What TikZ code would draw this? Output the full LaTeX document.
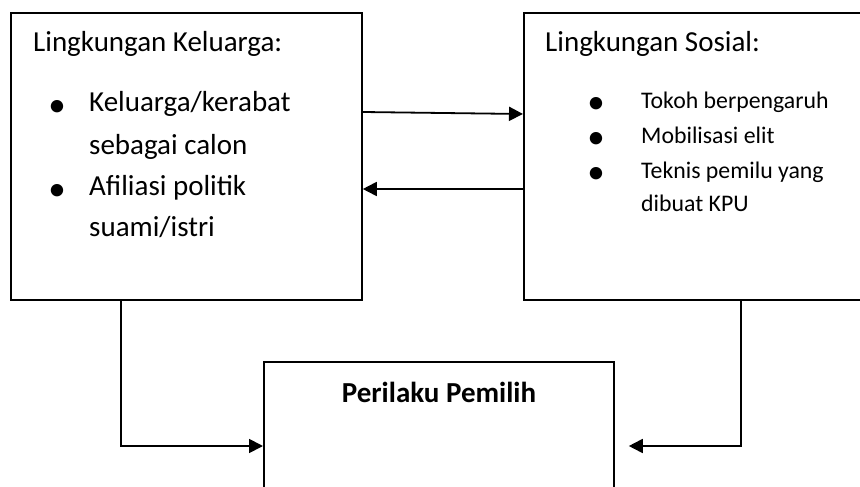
\documentclass[tikz,border=0pt]{standalone}
\usepackage{fontspec}
\setmainfont{Carlito}
\usetikzlibrary{arrows.meta, positioning, calc}

\tikzset{
  box/.style={draw, line width=1.8pt, anchor=north west, inner sep=0pt},
  arr/.style={line width=1.8pt, -{Triangle[length=14pt,width=14pt]}},
  big/.style={anchor=base west, inner sep=0pt, font=\fontsize{29}{35}\selectfont},
  small/.style={anchor=base west, inner sep=0pt, font=\fontsize{23.8}{29}\selectfont},
  dotb/.style={anchor=base, inner sep=0pt, yshift=-5pt, font=\fontsize{35}{40}\selectfont},
}

\begin{document}
\begin{tikzpicture}[x=1pt, y=-1pt]
                \useasboundingbox (0,0) rectangle (860,487);
                % Boxes
                \node[box, minimum width=351pt, minimum height=287pt] (keluarga) at (10,12) {};
                \node[box, minimum width=380pt, minimum height=287pt] (sosial) at (523,12) {};
                \node[box, minimum width=350pt, minimum height=170pt] (pemilih) at (263,361) {};

                % Lingkungan Keluarga
                \node[big] (kelhead) at (33,52) {Lingkungan Keluarga:};
                \node[dotb] (kdot1) at (57,111.7) {•};
                \node[big] (kel1) at (89,111.7) {Keluarga/kerabat};
                \node[big] (kel2) at (89,154) {sebagai calon};
                \node[dotb] (kdot2) at (57,195) {•};
                \node[big] (kel3) at (89,195) {Afiliasi politik};
                \node[big] (kel4) at (89,236.7) {suami/istri};

                % Lingkungan Sosial
                \node[big] (soshead) at (545,52) {Lingkungan Sosial:};
                \node[dotb] (sdot1) at (596,108.3) {•};
                \node[small] (sos1) at (641,108.3) {Tokoh berpengaruh};
                \node[dotb] (sdot2) at (596,143.3) {•};
                \node[small] (sos2) at (641,143.3) {Mobilisasi elit};
                \node[dotb] (sdot3) at (596,178.3) {•};
                \node[small] (sos3) at (641,178.3) {Teknis pemilu yang};
                \node[small] (sos4) at (641,211.7) {dibuat KPU};

                % Perilaku Pemilih
                \node[anchor=base, inner sep=0pt, font=\fontsize{29}{35}\selectfont\bfseries] (pemhead) at (439,402) {Perilaku Pemilih};

                % Connectors
                \coordinate (kbend) at (121,446);
                \coordinate (sbend) at (741,446);
                \draw[arr] (keluarga.east |- 0,112) -- (sosial.west |- 0,114);
                \draw[arr] (sosial.west |- 0,189) -- (keluarga.east |- 0,189);
                \draw[arr] (keluarga.south -| kbend) |- (pemilih.west |- kbend);
                \draw[arr] (sosial.south -| sbend) |- ([xshift=14pt]pemilih.east |- sbend);
            \end{tikzpicture}
\end{document}
